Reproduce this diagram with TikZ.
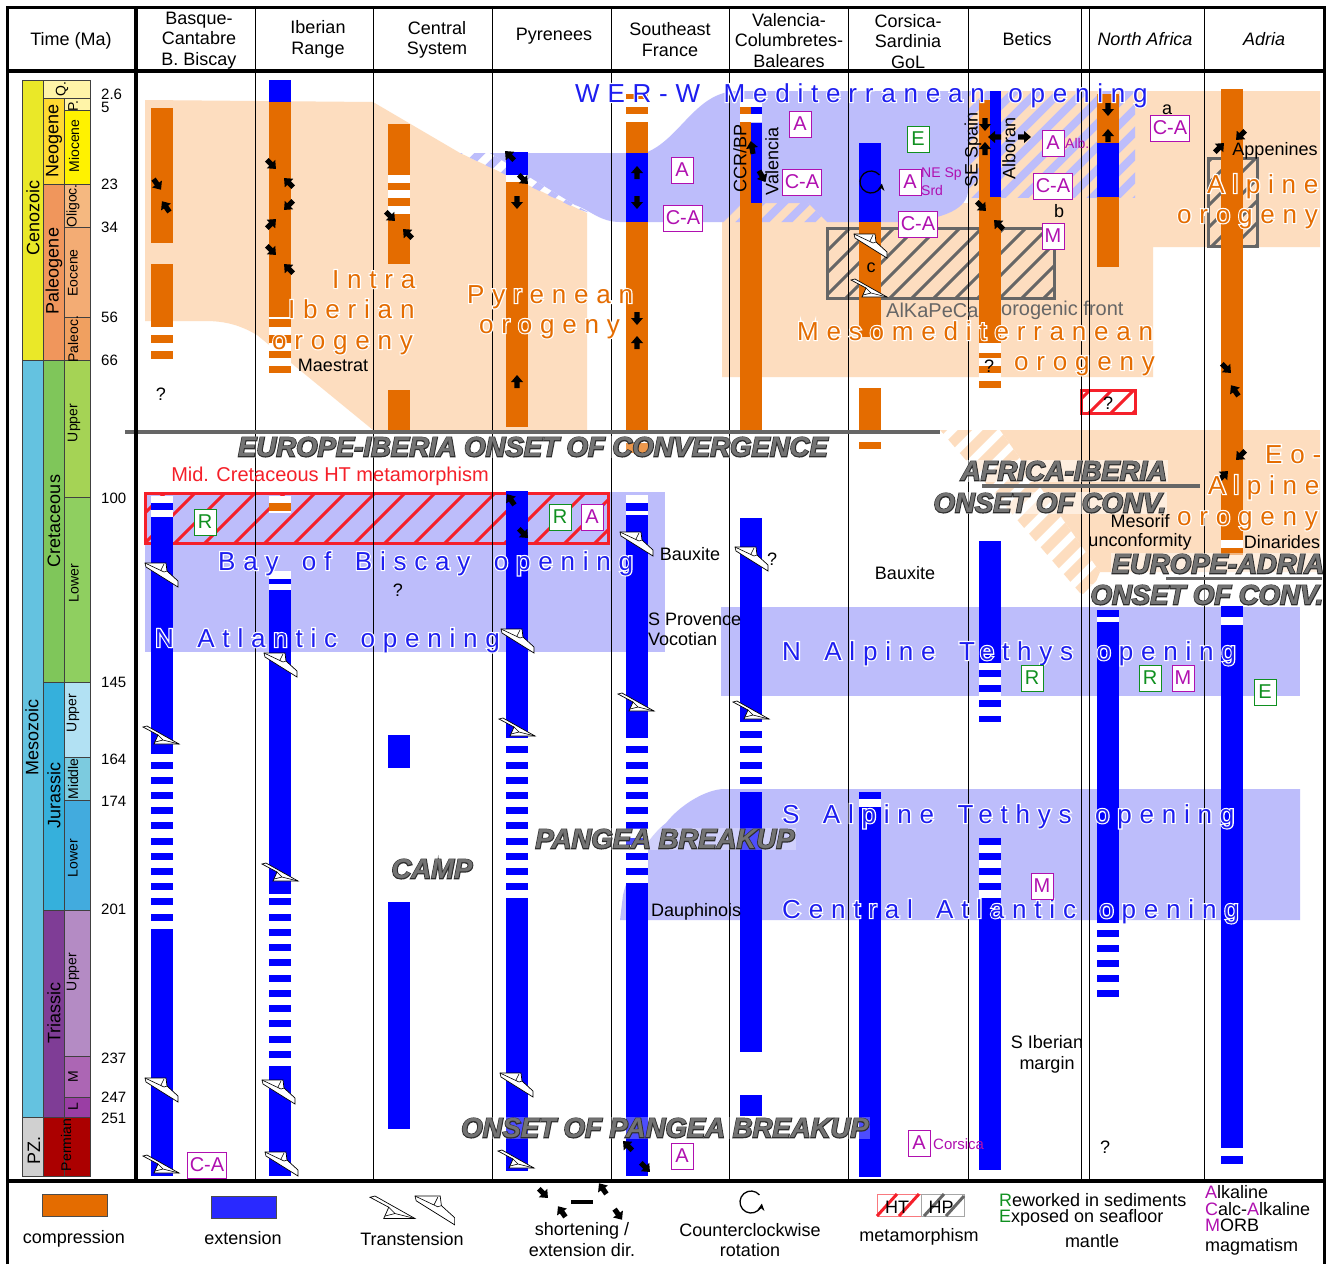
\documentclass[tikz,border=0pt]{standalone}
\usepackage{fontspec}
\usepackage{xcolor}
\usepackage{tikz}
\usetikzlibrary{arrows.meta}
\setmainfont{Liberation Sans}
\definecolor{comp}{RGB}{228, 108, 0}
\definecolor{extn}{RGB}{0, 0, 255}
\definecolor{peach}{RGB}{253, 221, 191}
\definecolor{riftzone}{RGB}{189, 189, 251}
\definecolor{oplabel}{RGB}{30, 30, 240}
\definecolor{metared}{RGB}{245, 32, 42}
\definecolor{metagrey}{RGB}{102, 102, 102}
\definecolor{magmatic}{RGB}{176, 16, 176}
\definecolor{mantle}{RGB}{16, 144, 32}
\definecolor{titlegrey}{RGB}{115, 115, 115}
\definecolor{titledark}{RGB}{45, 45, 45}
\definecolor{cenoz}{RGB}{234, 232, 40}
\definecolor{mesoz}{RGB}{100, 194, 224}
\definecolor{paleoz}{RGB}{208, 208, 208}
\definecolor{quat}{RGB}{255, 244, 168}
\definecolor{neog}{RGB}{255, 217, 50}
\definecolor{paleog}{RGB}{240, 150, 92}
\definecolor{cret}{RGB}{127, 198, 90}
\definecolor{jura}{RGB}{53, 176, 220}
\definecolor{tria}{RGB}{127, 61, 150}
\definecolor{perm}{RGB}{171, 0, 0}
\definecolor{mioc}{RGB}{255, 242, 0}
\definecolor{olig}{RGB}{245, 184, 128}
\definecolor{eoc}{RGB}{243, 172, 116}
\definecolor{paleoc}{RGB}{240, 160, 96}
\definecolor{ukret}{RGB}{165, 211, 85}
\definecolor{lkret}{RGB}{143, 207, 96}
\definecolor{ujur}{RGB}{178, 225, 243}
\definecolor{mjur}{RGB}{124, 203, 223}
\definecolor{ljur}{RGB}{66, 171, 222}
\definecolor{utri}{RGB}{180, 139, 196}
\definecolor{mtri}{RGB}{172, 102, 180}
\definecolor{ltri}{RGB}{154, 62, 164}
\newcommand{\halotext}[2]{\spaceskip=.9em\relax{\addfontfeature{LetterSpace=30,FakeBold=9}\color{white}\rlap{#2}}{\addfontfeature{LetterSpace=30}\color{#1}#2}}
\newcommand{\titletext}[1]{{\addfontfeature{FakeBold=6}\color{titledark}\rlap{#1}}{\color{titlegrey}#1}}
% 45 degree hatch lines x+y=c, to be used inside a clipped scope
\newcommand{\hatchlines}[5]{\foreach \c in {#3,#4,...,#5} \draw[#1, line width=#2] (\c,0) -- (\c-1264,1264);}
\tikzset{
  lab/.style={font=\fontsize{18}{20.5}\selectfont, align=center, inner sep=0pt, yshift=-1.5pt},
  small/.style={font=\fontsize{15}{17}\selectfont, inner sep=0pt},
  periodlab/.style={font=\fontsize{18}{20}\selectfont, rotate=90, inner sep=0pt},
  epochlab/.style={font=\fontsize{14}{16}\selectfont, rotate=90, inner sep=0pt},
  zonelab/.style={font=\fontsize{26}{28}\selectfont, anchor=base west, inner sep=0pt},
  boxtitle/.style={font=\fontsize{27.5}{30}\selectfont\bfseries\itshape, fill=white, fill opacity=#1, text opacity=1, inner sep=1pt},
  boxtitle/.default=.3,
  flag/.style={font=\fontsize{20}{22}\selectfont, draw=#1, text=#1, fill=white, line width=1pt, minimum height=26pt, minimum width=22pt, inner sep=2pt},
  shortarrow/.pic={\fill[black] (-6,-2.6)--(0,-2.6)--(0,-6)--(7,0)--(0,6)--(0,2.6)--(-6,2.6)--cycle;},
  transup/.pic={
    \filldraw[fill=white, draw=black, line width=.7pt] (0,0)--(21,0)--(22,8)--(33,18)--(33,24)--(1,4)--cycle;
    \draw[line width=.6pt] (0,0)--(19,9)--(22,8) (16,7)--(19,1);
  },
  transdown/.pic={
    \filldraw[fill=white, draw=black, line width=.7pt] (0,1)--(4,0)--(36,18)--(11,18)--(15,9)--cycle;
    \draw[line width=.6pt] (15,9)--(20,14)--(12,16) (20,14)--(36,18);
  },
  ccwarrow/.pic={
    \draw[line width=1.3pt, -{Stealth[length=7pt, width=7pt]}] (-40:11) arc (-40:-352:11);
  }
}
\begin{document}
\begin{tikzpicture}[x=1pt, y=-1pt]
\useasboundingbox (0,0) rectangle (1330,1264);
\fill[white] (0,0) rectangle (1330,1264);
% orogeny zones
\fill[peach] (145,100) -- (373,102) -- (460,153) -- (587,213) -- (587,430) -- (373,430) -- (257,335) .. controls (240,325) and (225,321) .. (205,321) -- (145,321) -- cycle;
\fill[peach] (722,222) -- (742,203) -- (968,203) -- (968,91) -- (1320,91) -- (1320,247) -- (1153,247) -- (1153,377) -- (722,377) -- cycle;
\fill[peach] (1000,430) -- (1320,430) -- (1320,572) -- (1100,572) -- cycle;
\begin{scope}
  \clip (940,430) -- (1000,430) -- (1100,572) -- (1090,596) -- (1080,593) -- cycle;
  \hatchlines{peach}{10pt}{1370}{1395}{1720}
\end{scope}
% opening zones
\fill[riftzone] (145,492) rectangle (665,652);
\fill[riftzone] (721,607) rectangle (1300,696);
\fill[riftzone] (620,920) -- (623,895) .. controls (630,865) and (650,835) .. (666,823) .. controls (680,805) and (705,790) .. (723,789) -- (1300,789) -- (1300,920) -- cycle;
\fill[riftzone] (490,153) -- (645,153) .. controls (680,140) and (695,92) .. (737,91) -- (968,91) -- (968,190) .. controls (968,208) and (945,220) .. (900,222) -- (827,222) -- (808,203) -- (742,203) -- (723,222) -- (620,222) .. controls (600,222) and (590,210) .. (575,205) -- cycle;
\begin{scope}
  \clip (460,153) -- (490,153) -- (575,205) -- (590,213) -- (575,208) -- cycle;
  \hatchlines{riftzone}{8pt}{610}{633}{810}
\end{scope}
\begin{scope}
  \clip (742,203) -- (808,203) -- (827,222) -- (723,222) -- cycle;
  \hatchlines{riftzone}{8pt}{940}{963}{1060}
\end{scope}
\begin{scope}
  \clip (968,91) rectangle (1135,197);
  \hatchlines{riftzone}{8pt}{1060}{1083}{1340}
\end{scope}
% metamorphism boxes
\begin{scope}
  \clip (827,228) rectangle (1054,298);
  \hatchlines{metagrey}{3pt}{1056}{1078}{1360}
\end{scope}
\draw[metagrey, line width=3pt] (827,228) rectangle (1054,298);
\begin{scope}
  \clip (1208,158) rectangle (1257,246);
  \hatchlines{metagrey}{3pt}{1370}{1392}{1510}
\end{scope}
\draw[metagrey, line width=3pt] (1208,158) rectangle (1257,246);
\begin{scope}
  \clip (145,493) rectangle (608,543);
  \hatchlines{metared}{3pt}{658}{688}{1160}
\end{scope}
\draw[metared, line width=3pt] (145,493) rectangle (608,543);
\fill[white] (1081,390) rectangle (1135,413);
\begin{scope}
  \clip (1081,390) rectangle (1135,413);
  \hatchlines{metared}{3pt}{1480}{1502}{1550}
\end{scope}
\draw[metared, line width=3pt] (1081,390) rectangle (1135,413);
% column lines
\foreach \x in {255,373,492,611,729,848,968,1081,1089,1204}
  \draw[line width=.9pt] (\x,9) -- (\x,1181);
% white behind the striped parts
\foreach \x/\ya/\yb in {151/327/360,151/496/517,269/317/376,269/496/513,269/571/590,388/175/214,506/175/182,626/94/122,626/495/515,626/746/883,740/99/122,859/792/807,979/343/388,979/663/722,979/838/898,1097/610/622,1221/540/555,1221/617/625}
  \fill[white] (\x,\ya) rectangle (\x+22,\yb);
% compression
\foreach \x/\ya/\yb in {151/108/243,151/264/327,151/335/343,151/351/359,269/102/317,269/319/327,269/335/343,269/351/358,269/366/373,269/503/511,388/124/175,388/183/190,388/198/206,388/214/264,388/390/430,506/182/427,626/94/99,626/107/114,626/122/153,626/222/430,626/443/453,740/203/430,859/222/337,859/388/430,859/442/449,979/197/343,979/353/358,979/366/373,979/381/388,1097/94/143,1097/197/267,1221/89/540,1221/548/555}
  \fill[comp] (\x,\ya) rectangle (\x+22,\yb);
\fill[comp] (740,107) rectangle (751,114);
\fill[comp] (740,122) rectangle (751,203);
\fill[comp] (979,100) rectangle (990,197);
% extension
\foreach \x/\ya/\yb in {151/503/510,151/517/754,151/929/1176,269/80/102,269/579/584,269/590/894,269/1066/1176,388/735/768,388/902/1129,506/152/175,506/491/738,506/898/1171,626/153/222,626/503/511,626/515/738,626/883/1176,740/518/722,740/792/1052,740/1095/1116,859/143/222,859/792/799,859/807/1177,979/541/663,979/670/677,979/685/692,979/700/707,979/716/722,979/898/1170,1097/143/197,1097/610/617,1097/622/923,1221/606/617,1221/625/1148,1221/1156/1164}
  \fill[extn] (\x,\ya) rectangle (\x+22,\yb);
\fill[extn] (751,107) rectangle (762,114);
\fill[extn] (751,123) rectangle (762,203);
\fill[extn] (990,91) rectangle (1001,197);
\foreach \y in {762,777,792,807,822,838,853,868,883,898,914}
  \fill[extn] (151,\y) rectangle (173,\y+7);
\foreach \y in {898,914,929,944,959,975,990,1005,1020,1036,1051}
  \fill[extn] (269,\y) rectangle (291,\y+7);
\foreach \y in {746,762,777,792,807,822,838,853,868,883}
  \fill[extn] (506,\y) rectangle (528,\y+7);
\foreach \y in {746,762,777,792,807,822,838,853,868}
  \fill[extn] (626,\y) rectangle (648,\y+7);
\foreach \y in {731,746,762,777}
  \fill[extn] (740,\y) rectangle (762,\y+7);
\foreach \y in {838,853,868,883}
  \fill[extn] (979,\y) rectangle (1001,\y+7);
\foreach \y in {930,945,960,975,990}
  \fill[extn] (1097,\y) rectangle (1119,\y+7);
% time scale
\foreach \xa/\xb/\ya/\yb/\col in {22/43/80/360/cenoz,22/43/360/1117/mesoz,22/43/1117/1176/paleoz,43/90/80/98/quat,43/64/98/184/neog,43/64/184/360/paleog,43/64/360/682/cret,43/64/682/910/jura,43/64/910/1117/tria,43/64/1117/1176/perm,64/90/98/110/quat,64/90/110/184/mioc,64/90/184/227/olig,64/90/227/317/eoc,64/90/317/360/paleoc,64/90/360/497/ukret,64/90/497/682/lkret,64/90/682/757/ujur,64/90/757/800/mjur,64/90/800/910/ljur,64/90/910/1056/utri,64/90/1056/1097/mtri,64/90/1097/1117/ltri,64/90/1117/1176/perm}
  \filldraw[draw=black!75, line width=.7pt, fill=\col] (\xa,\ya) rectangle (\xb,\yb);
\foreach \x/\y/\t [count=\i] in {33/218/Cenozoic,32/737/Mesozoic,34/1150/PZ.,54/141/Neogene,54/271/Paleogene,54/521/Cretaceous,54/795/Jurassic,54/1013/Triassic}
  \node[periodlab] (per\i) at (\x,\y) {\t};
\foreach \x/\y/\t [count=\i] in {62/89/Q.,73/106/P.,74/146/Miocene,73/206/Oligoc.,73/273/Eocene,73/339/Paleoc.,74/423/Upper,74/583/Lower,73/713/Upper,73/779/Middle,73/858/Lower,73/972/Upper,73/1077/M,73/1107/L,66/1145/Permian}
  \node[epochlab] (ep\i) at (\x,\y) {\t};
\foreach \y/\t [count=\i] in {94/2.6,107/5,184/23,227/34,317/56,360/66,498/100,682/145,759/164,801/174,909/201,1058/237,1097/247,1118/251}
  \node[small, anchor=west] (age\i) at (101,\y) {\t};
% column headers
\node[lab] (hdrtime) at (71,39) {Time (Ma)};
\foreach \x/\y/\t [count=\i] in {199/39/{Basque-\\Cantabre\\B. Biscay},318/38/{Iberian\\Range},437/38.5/{Central\\System},554/35/{Pyrenees},670/38/{Southeast\\France},789/39/{Valencia-\\Columbretes-\\Baleares},908/40/{Corsica-\\Sardinia\\GoL},1027/37.5/{Betics}}
  \node[lab] (hdr\i) at (\x,\y) {\t};
\node[lab, font=\fontsize{18}{20.5}\selectfont\itshape] (hdrafrica) at (1145,38) {North Africa};
\node[lab, font=\fontsize{18}{20.5}\selectfont\itshape] (hdradria) at (1264,38) {Adria};
% black labels
\foreach \x/\y/\t [count=\i] in {333/364/Maestrat,161/393/?,398/589/?,772/558/?,1105/1146/?,1108/402/?,989/365/?,690/553/Bauxite,905/572/Bauxite,1282/541/Dinarides,1275/149/Appenines,1167/108/a,1059/210/b,871/266/c,1140/520/Mesorif,1140/540/unconformity}
  \node[lab] (note\i) at (\x,\y) {\t};
\node[lab, align=left, anchor=west] (provence) at (648,628) {S Provence\\Vocotian};
\node[lab, anchor=west] (dauphin) at (651,910) {Dauphinois};
\node[lab] (siberian) at (1047,1053) {S Iberian\\margin};
\node[lab, rotate=90] (ccrbp) at (740,157) {CCR/BP};
\node[lab, rotate=90] (valencia) at (772,160) {Valencia};
\node[lab, rotate=90] (sespain) at (973,148) {SE Spain};
\node[lab, rotate=90] (alboran) at (1009,147) {Alboran};
\node[lab, text=metared, font=\fontsize{20}{22}\selectfont] (midcret) at (330,475) {Mid. Cretaceous HT metamorphism};
\node[lab, text=metagrey, font=\fontsize{20}{22}\selectfont, anchor=west] (alkapeca) at (886,309) {AlKaPeCa};
\node[lab, text=metagrey, font=\fontsize{20}{22}\selectfont, anchor=west] (orofront) at (1001,309) {orogenic front};
% transtension symbols
\foreach \x/\y in {145/563,145/1078,264/653,262/1080,265/1152,501/629,500/1073,620/532,735/547,854/234}
  \pic at (\x,\y) {transup};
\foreach \x/\y in {143/726,143/1155,262/863,499/718,498/1150,618/693,733/701,851/279}
  \pic at (\x,\y) {transdown};
\pic at (871,182) {ccwarrow};
% shortening and extension directions
\foreach \x/\y/\a in {157/184/-55,166/207/125,271/164/-45,289/183/135,289/205/-135,271/224/45,271/250/-45,289/269/135,390/216/-45,408/234/135,510/156/135,523/179/-45,517/202/-90,517/382/90,637/173/90,637/202/-90,637/318/-90,637/343/90,752/148/100,762/176/-60,985/124/-90,985/149/90,995/137/180,1024/137/0,981/206/-45,999/225/135,1108/109/-90,1108/136/90,1219/148/45,1241/135/-135,1226/368/-45,1235/391/125,1241/455/-135,1223/476/45,511/500/125,523/533/-45,628/1146/135,645/1167/-45}
  \pic[rotate=\a] at (\x,\y) {shortarrow};
% zone names
\foreach \x/\y/\t [count=\i] in {575/102/WER-W Mediterranean opening,218/570/Bay of Biscay opening,155/647/N Atlantic opening,782/660/N Alpine Tethys opening,782/823/S Alpine Tethys opening,782/918/Central Atlantic opening}
  \node[zonelab] (open\i) at (\x,\y) {\halotext{oplabel}{\t}};
\foreach \x/\y/\t [count=\i] in {332/288/Intra,288/318/Iberian,272/349/orogeny,467/303/Pyrenean,479/333/orogeny,797/340/Mesomediterranean,1014/370/orogeny,1207/193/Alpine,1177/223/orogeny,1265/463/Eo-,1208/494/Alpine,1177/525/orogeny}
  \node[zonelab] (oro\i) at (\x,\y) {\halotext{comp}{\t}};
% onset events
\draw[metagrey, line width=4pt] (125,432) -- (940,432);
\draw[metagrey, line width=4pt] (982,486) -- (1200,486);
\node[boxtitle] (onseteuib) at (533,447) {\titletext{EUROPE-IBERIA ONSET OF CONVERGENCE}};
\node[boxtitle=.5] (afib) at (1064,471) {\titletext{AFRICA-IBERIA}};
\node[boxtitle=.5] (afibonset) at (1050,503) {\titletext{ONSET OF CONV.}};
\node[boxtitle=.5] (euad) at (1218,564) {\titletext{EUROPE-ADRIA}};
\node[boxtitle=.5] (euadonset) at (1207,595) {\titletext{ONSET OF CONV.}};
\draw[metagrey, line width=3pt] (1166,578) -- (1322,578);
\node[boxtitle] (pangea) at (665,839) {\titletext{PANGEA BREAKUP}};
\node[boxtitle] (camp) at (432,869) {\titletext{CAMP}};
\node[boxtitle] (pangeaonset) at (665,1128) {\titletext{ONSET OF PANGEA BREAKUP}};
% magmatism and mantle flags
\foreach \x/\y/\t [count=\i] in {800/124/A,682/170/A,910/182/A,802/182/C-A,683/218/C-A,918/224/C-A,1053/186/C-A,1053/143/A,1053/236/M,1170/128/C-A,1183/678/M,1042/886/M,919/1143/A,682/1156/A,207/1165/C-A,592/517/A}
  \node[flag=magmatic] (mag\i) at (\x,\y) {\t};
\foreach \x/\y/\t [count=\i] in {918/139/E,1265/692/E,1032/678/R,1150/678/R,205/522/R,560/517/R}
  \node[flag=mantle] (man\i) at (\x,\y) {\t};
\node[small, text=magmatic, anchor=west, font=\fontsize{14}{16}\selectfont] (nesp) at (921,174) {NE Sp};
\node[small, text=magmatic, anchor=west, font=\fontsize{14}{16}\selectfont] (srd) at (921,190) {Srd};
\node[small, text=magmatic, anchor=west, font=\fontsize{14}{16}\selectfont] (alb) at (1065,143) {Alb.};
\node[small, text=magmatic, anchor=west] (corsica) at (933,1144) {Corsica};
% frame
\draw[line width=3pt] (7,1264) -- (7,7) -- (1324,7) -- (1324,1264);
\draw[line width=4pt] (7,71) -- (1324,71);
\draw[line width=4pt] (7,1181) -- (1324,1181);
\draw[line width=4pt] (136,7) -- (136,1181);
% legend
\filldraw[fill=comp, draw=black!70, line width=1pt] (42,1194) rectangle (107,1216);
\filldraw[fill=extn!84!white, draw=black!70, line width=1pt] (211,1196) rectangle (276,1218);
\pic[scale=1.25] at (370,1196) {transdown};
\pic[scale=1.2] at (415,1196) {transup};
\foreach \x/\y/\a in {543/1193/-45,603/1189/125,562/1212/125,618/1214/-55}
  \pic[rotate=\a] at (\x,\y) {shortarrow};
\draw[line width=4pt] (571,1202) -- (593,1202);
\pic at (751,1202) {ccwarrow};
\draw[metared!60, line width=1pt, fill=white] (877,1194) rectangle (921,1216);
\draw[metared, line width=3pt] (877,1216) -- (897,1194) (899,1216) -- (919,1194);
\draw[black!35, line width=1pt] (921,1194) rectangle (964,1216);
\draw[metagrey, line width=3pt] (924,1216) -- (944,1194) (946,1216) -- (964,1196);
\node[lab] (ht) at (897,1206) {HT};
\node[lab] (hp) at (941,1206) {HP};
\foreach \x/\y/\t [count=\i] in {74/1237/compression,243/1237/extension,412/1238/Transtension,919/1235/metamorphism,1092/1240/mantle,750/1249/rotation,750/1229/Counterclockwise}
  \node[lab] (leg\i) at (\x,\y) {\t};
\node[lab] (legshort) at (582,1238) {shortening /\\extension dir.};
\node[lab, anchor=west] (legr) at (999,1199) {\textcolor{mantle}{R}eworked in sediments};
\node[lab, anchor=west] (lege) at (999,1216) {\textcolor{mantle}{E}xposed on seafloor};
\node[lab, anchor=west] (lega) at (1205,1191) {\textcolor{magmatic}{A}lkaline};
\node[lab, anchor=west] (legc) at (1205,1208) {\textcolor{magmatic}{C}alc-\textcolor{magmatic}{A}lkaline};
\node[lab, anchor=west] (legm) at (1205,1224) {\textcolor{magmatic}{M}ORB};
\node[lab, anchor=west] (legg) at (1205,1245) {magmatism};
\end{tikzpicture}
\end{document}
